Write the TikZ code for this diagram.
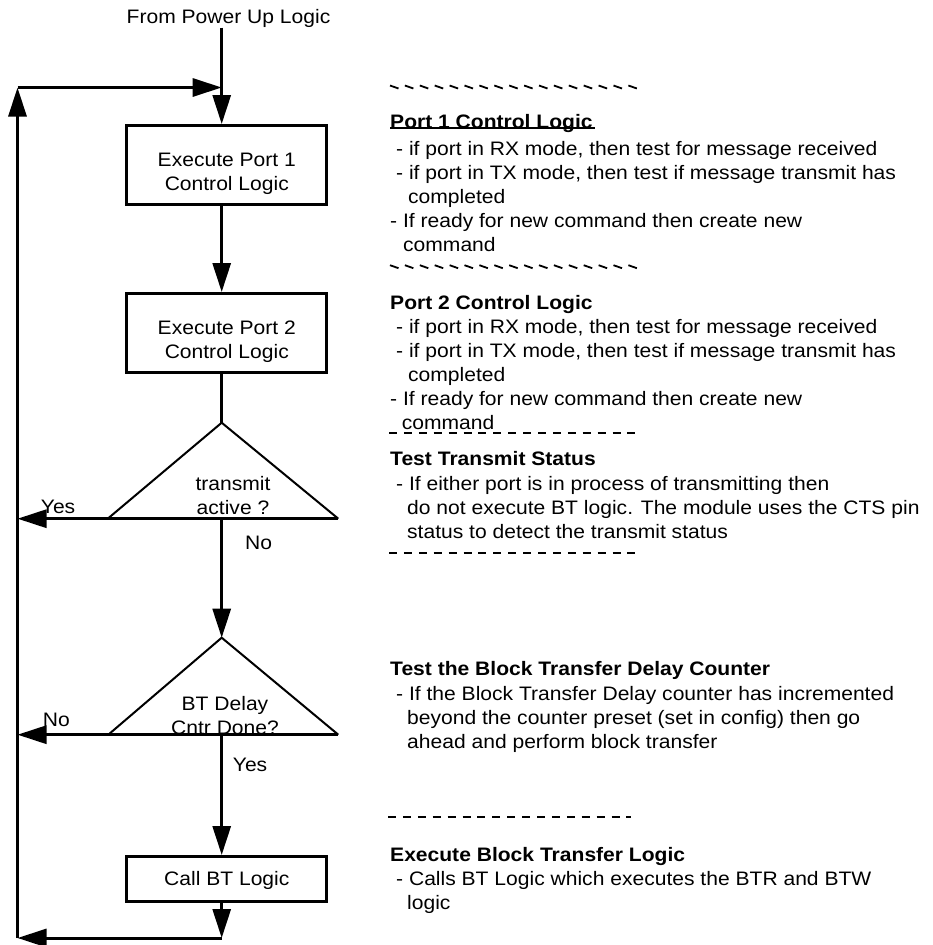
\documentclass[tikz,border=0pt]{standalone}
\usepackage{fontspec}
\setmainfont{Liberation Sans}[FakeStretch=1.08]
\usetikzlibrary{arrows.meta}

% left-aligned rows whose baseline is the first row
\newcommand\textrows[1]{\begin{tabular}[t]{@{}l@{}}#1\end{tabular}}
% centred rows whose baseline is the first row
\newcommand\ctrrows[1]{\begin{tabular}[t]{@{}c@{}}#1\end{tabular}}
% centred rows set a little lower inside a box
\newcommand\boxrows[2][8pt]{\raisebox{-#1}[\height][\depth]{\begin{tabular}{@{}c@{}}#2\end{tabular}}}

\begin{document}
\begin{tikzpicture}[x=1pt,y=-1pt,
  every node/.style={font=\fontsize{19.5pt}{24pt}\selectfont},
  wire/.style={line width=3pt},
  flow/.style={line width=3pt,-{Triangle[length=29pt,width=18pt]}},
  stepbox/.style={draw,line width=3pt,minimum width=200pt,inner sep=0pt},
  tri/.style={line width=2pt,line join=miter},
  sep/.style={line width=2pt,dash pattern=on 8pt off 6.9pt},
  tilde/.style={line width=1.8pt},
  lbl/.style={anchor=base west,inner sep=0pt},
  note/.style={anchor=base west,inner sep=0pt},
  ttext/.style={anchor=base,inner sep=0pt}]

\path[use as bounding box,fill=white] (0,0) rectangle (932,945);

% ---------- main column ----------
\coordinate (spine) at (221.7,0);
\node[ttext] (power) at (228.5,23.3) {From Power Up Logic};

\node[stepbox,minimum height=79pt] (box1) at (226.8,165) {\boxrows[8.2pt]{Execute Port 1\\Control Logic}};
\node[stepbox,minimum height=79pt] (box2) at (226.8,333) {\boxrows[8.2pt]{Execute Port 2\\Control Logic}};
\node[stepbox,minimum height=45pt] (box3) at (226.8,879) {\boxrows[1.2pt]{Call BT Logic}};

% decision triangles
\coordinate (t1top) at (221.7,422.7);
\coordinate (t1l) at (107.7,518.7);
\coordinate (t1r) at (338.3,518.7);
\coordinate (t1base) at (221.7,518.7);
\coordinate (t2top) at (221.7,637.7);
\coordinate (t2l) at (108.3,734.7);
\coordinate (t2r) at (338.3,734.7);
\coordinate (t2base) at (221.7,734.7);

\draw[tri] (t1l) -- (t1top) -- (t1r);
\draw[wire] (t1l) -- (t1r);
\draw[tri] (t2l) -- (t2top) -- (t2r);
\draw[wire] (t2l) -- (t2r);

\node[ttext] (t1txt) at (233,490.7) {\ctrrows{transmit\\active ?}};
\node[ttext] (t2txt) at (225,710) {\ctrrows{BT Delay\\Cntr Done?}};

% return loop
\coordinate (loopTop) at (17.5,87.5);
\coordinate (loopBot) at (17.5,938);
\coordinate (joinTop) at (221.7,87.5);
\coordinate (retR) at (221.7,938);

% connectors
\draw[flow] (power.south -| spine) -- (spine |- box1.north);
\draw[flow] (spine |- box1.south) -- (spine |- box2.north);
\draw[wire] (spine |- box2.south) -- (t1top);
\draw[flow] (t1base) -- (t2top);
\draw[flow] (t2base) -- (spine |- box3.north);
\draw[flow] (spine |- box3.south) -- (retR);
\draw[flow] (retR) -- (loopBot);
\draw[flow] (loopBot) -- (loopTop);
\draw[flow] (loopTop) -- (joinTop);
\draw[flow] (t1l) -- (t1l -| loopTop);
\draw[flow] (t2l) -- (t2l -| loopTop);

% branch labels
\node[lbl] (yes1) at (40.7,513) {Yes};
\node[lbl] (no1) at (245,549) {No};
\node[lbl] (no2) at (42.7,726.7) {No};
\node[lbl] (yes2) at (232.7,771.7) {Yes};

% ---------- notes column ----------
\foreach \i in {0,...,16} {
  \draw[tilde] ({390+\i*14.9},85.5) -- ++(8.5,3);
  \draw[tilde] ({390+\i*14.9},265.2) -- ++(8.5,3);
}
\draw[sep] (389,433.3) -- (635.5,433.3);
\draw[sep] (389,553.3) -- (635.5,553.3);
\draw[sep] (388,817.3) -- (631,817.3);

\node[note] (p1) at (390,128) {\textrows{%
  \textbf{Port 1 Control Logic}\\[3.5pt]
  \hspace*{6pt}- if port in RX mode, then test for message received\\
  \hspace*{6pt}- if port in TX mode, then test if message transmit has\\
  \hspace*{18pt}completed\\
  - If ready for new command then create new\\
  \hspace*{13pt}command}};
\draw[line width=1.8pt] (p1.base west) ++(0,0.3) -- ++(205,0);

\node[note] (p2) at (390,309.3) {\textrows{%
  \textbf{Port 2 Control Logic}\\
  \hspace*{6pt}- if port in RX mode, then test for message received\\
  \hspace*{6pt}- if port in TX mode, then test if message transmit has\\
  \hspace*{18pt}completed\\
  - If ready for new command then create new}};
\node[note,fill=white,inner xsep=3pt,inner ysep=1.5pt] (p2end) at (398.7,429.3) {command};

\node[note] (tts) at (390,465) {\textrows{%
  \textbf{Test Transmit Status}\\[1pt]
  \hspace*{6pt}- If either port is in process of transmitting then\\
  \hspace*{17pt}do not execute BT logic. The module uses the CTS pin\\
  \hspace*{17pt}status to detect the transmit status}};

\node[note] (btd) at (390,675) {\textrows{%
  \textbf{Test the Block Transfer Delay Counter}\\[1pt]
  \hspace*{6pt}- If the Block Transfer Delay counter has incremented\\
  \hspace*{17pt}beyond the counter preset (set in config) then go\\
  \hspace*{17pt}ahead and perform block transfer}};

\node[note] (ebt) at (390,861) {\textrows{%
  \textbf{Execute Block Transfer Logic}\\
  \hspace*{6pt}- Calls BT Logic which executes the BTR and BTW\\
  \hspace*{17pt}logic}};

\end{tikzpicture}
\end{document}
